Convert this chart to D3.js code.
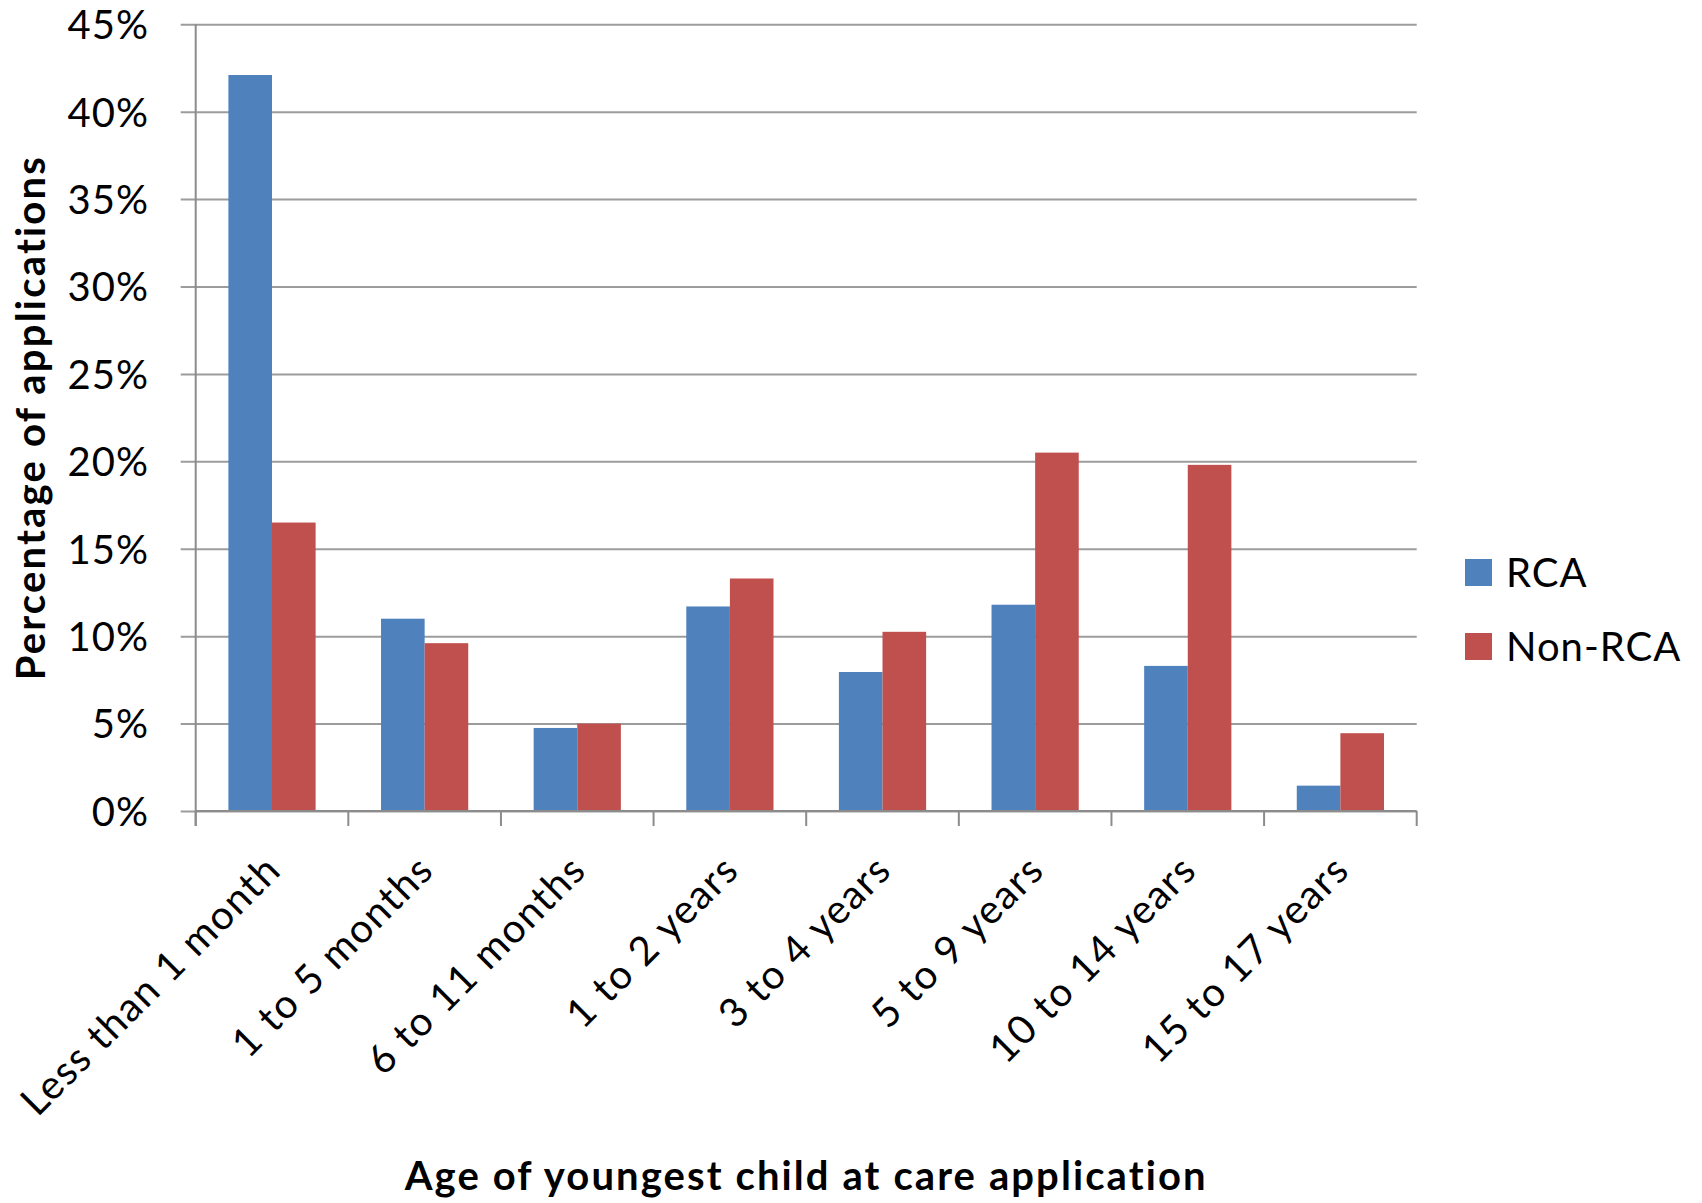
<!DOCTYPE html>
<html>
<head>
<meta charset="utf-8">
<script src="https://cdn.jsdelivr.net/npm/d3@7"></script>
<style>
  html, body { margin: 0; padding: 0; background: #fff; }
  svg { display: block; }
  text { font-family: Lato, "Open Sans", sans-serif; fill: #000; }
</style>
</head>
<body>
<svg id="chart" width="1702" height="1203"></svg>
<script>
// Share of care applications by age of youngest child
const categories = [
  "Less than 1 month", "1 to 5 months", "6 to 11 months", "1 to 2 years",
  "3 to 4 years", "5 to 9 years", "10 to 14 years", "15 to 17 years"
];
const seriesNames = ["RCA", "Non-RCA"];
const rcaValues    = [0.421, 0.110, 0.0475, 0.117, 0.0795, 0.118, 0.083, 0.0145];
const nonRcaValues = [0.165, 0.096, 0.050, 0.133, 0.1025, 0.205, 0.198, 0.0445];
const yTicks = [0, 0.05, 0.10, 0.15, 0.20, 0.25, 0.30, 0.35, 0.40, 0.45];
const colors = ["#4F81BD", "#C0504D"];

const svg = d3.select("#chart");
const plot = { left: 195.7, right: 1416.7, top: 24.3, bottom: 811 };

const x0 = d3.scaleBand().domain(categories).range([plot.left, plot.right]).padding(0);
const x1 = d3.scaleBand().domain(seriesNames).range([0, x0.bandwidth()])
  .paddingInner(0).paddingOuter(0.75);
const y = d3.scaleLinear().domain([0, 0.45]).range([plot.bottom, plot.top]);

// horizontal gridlines with short ticks left of the axis
const yAxis = d3.axisLeft(y).tickValues(yTicks).tickFormat(d3.format(".0%"))
  .tickSizeInner(-(plot.right - plot.left)).tickSizeOuter(0).tickPadding(0);
const gy = svg.append("g").attr("transform", `translate(${plot.left},0)`).call(yAxis);
gy.select(".domain").remove();
gy.selectAll(".tick line").attr("x1", -15).attr("x2", plot.right - plot.left)
  .attr("stroke", "#9c9c9c").attr("stroke-width", 2);
gy.selectAll(".tick text").attr("x", 149 - plot.left).attr("dy", "0.36em")
  .attr("font-size", 40).attr("letter-spacing", 1).attr("text-anchor", "end");

// bars
const data = categories.map((c, i) => ({ c, vals: [rcaValues[i], nonRcaValues[i]] }));
const groups = svg.append("g").selectAll("g").data(data).join("g")
  .attr("transform", d => `translate(${x0(d.c)},0)`);
groups.selectAll("rect")
  .data(d => d.vals.map((v, j) => ({ s: seriesNames[j], v, j })))
  .join("rect")
  .attr("x", d => x1(d.s))
  .attr("width", x1.bandwidth())
  .attr("y", d => y(d.v))
  .attr("height", d => y(0) - y(d.v))
  .attr("fill", d => colors[d.j]);

// axis lines
svg.append("line").attr("x1", plot.left).attr("x2", plot.left)
  .attr("y1", plot.top).attr("y2", plot.bottom + 15)
  .attr("stroke", "#8c8c8c").attr("stroke-width", 2);
const xAxis = d3.axisBottom(x0).tickSize(0).tickFormat("");
const gx = svg.append("g").attr("transform", `translate(0,${plot.bottom})`).call(xAxis);
gx.select(".domain").attr("stroke", "#8c8c8c").attr("stroke-width", 2)
  .attr("d", `M${plot.left},0H${plot.right}`);
// category boundary ticks
const bounds = categories.map(c => x0(c)).concat([plot.right]);
svg.append("g").selectAll("line").data(bounds).join("line")
  .attr("x1", d => d).attr("x2", d => d)
  .attr("y1", plot.bottom).attr("y2", plot.bottom + 15)
  .attr("stroke", "#8c8c8c").attr("stroke-width", 2);

// rotated category labels
svg.append("g").selectAll("text").data(categories).join("text")
  .attr("transform", d => `translate(${x0(d) + x0.bandwidth() / 2 + 4},${865}) rotate(-45)`)
  .attr("text-anchor", "end")
  .attr("dominant-baseline", "middle")
  .attr("font-size", 40)
  .attr("letter-spacing", 1.5)
  .text(d => d);

// axis titles
svg.append("text")
  .attr("x", (plot.left + plot.right) / 2).attr("y", 1190)
  .attr("text-anchor", "middle").attr("font-size", 40).attr("font-weight", "bold")
  .attr("letter-spacing", 2.1)
  .text("Age of youngest child at care application");
svg.append("text")
  .attr("transform", `translate(45,${(plot.top + plot.bottom) / 2}) rotate(-90)`)
  .attr("text-anchor", "middle").attr("font-size", 40).attr("font-weight", "bold")
  .attr("letter-spacing", 2.2)
  .text("Percentage of applications");

// legend
const legend = svg.append("g").selectAll("g").data(seriesNames).join("g")
  .attr("transform", (d, i) => `translate(1465,${559 + i * 74})`);
legend.append("rect").attr("width", 27).attr("height", 27).attr("fill", (d, i) => colors[i]);
legend.append("text").attr("x", 41).attr("y", 28).attr("font-size", 40)
  .attr("letter-spacing", 1).text(d => d);
</script>
</body>
</html>
